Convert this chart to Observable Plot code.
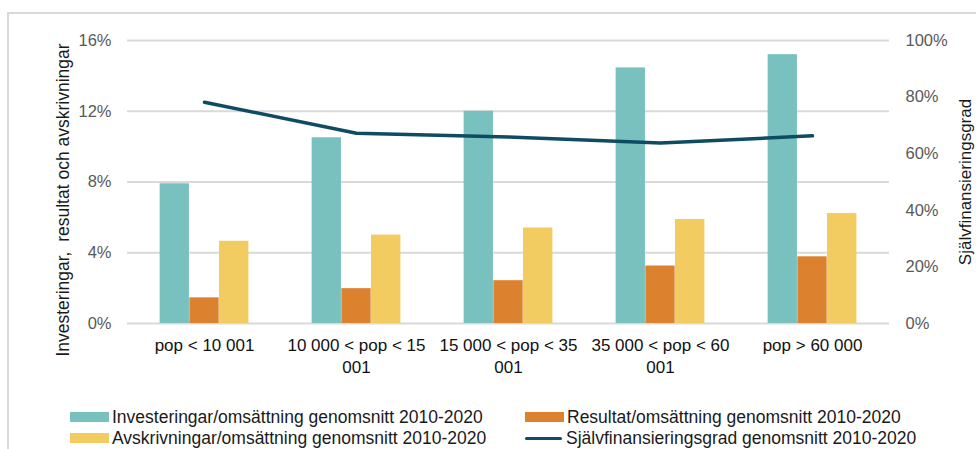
<!DOCTYPE html>
<html>
<head>
<meta charset="utf-8">
<script src="https://cdn.jsdelivr.net/npm/d3@7"></script>
<script src="https://cdn.jsdelivr.net/npm/@observablehq/plot@0.6"></script>
<style>
  html, body { margin: 0; padding: 0; background: #fff; }
  #wrap { position: relative; width: 976px; height: 449px; overflow: hidden; font-family: "Liberation Sans", Arial, sans-serif; }
  #frame { position: absolute; left: 7px; top: 12px; width: 1000px; height: 500px; border: 2px solid #d9d9d9; box-sizing: border-box; }
  #chart { position: absolute; left: 0; top: 0; }
  .legend { position: absolute; left: 0; top: 0; font-size: 17.5px; color: #1a1a1a; white-space: nowrap; }
  .legend .item { position: absolute; display: flex; align-items: center; height: 20px; }
  .legend .sw { display: inline-block; width: 39px; height: 10px; margin-right: 3px; }
  .legend .ln { display: inline-block; width: 37px; height: 3px; margin-right: 4px; border-radius: 2px; }
</style>
</head>
<body>
<div id="wrap">
  <div id="frame"></div>
  <div id="chart"></div>
  <div class="legend" id="legend"></div>
</div>
<script>
// Population-size groups
const categories = ["pop < 10 001", "10 000 < pop < 15 001", "15 000 < pop < 35 001", "35 000 < pop < 60 001", "pop > 60 000"];
// Two-line tick labels for the groups
const tickLabels = ["pop < 10 001", "10 000 < pop < 15\n001", "15 000 < pop < 35\n001", "35 000 < pop < 60\n001", "pop > 60 000"];

// Shares of turnover (%), average 2010-2020
const investeringar = [7.9, 10.5, 12.0, 14.45, 15.2];
const resultat = [1.45, 1.97, 2.42, 3.25, 3.77];
const avskrivningar = [4.65, 5.0, 5.4, 5.88, 6.22];
// Self-financing ratio (%), right axis
const sjalvfinansiering = [78.2, 67.2, 65.9, 63.8, 66.3];

const leftTicks = [0, 4, 8, 12, 16];
const rightTicks = [0, 20, 40, 60, 80, 100];

const leftTitle = "Investeringar,  resultat och avskrivningar";
const rightTitle = "Självfinansieringsgrad";

const seriesNames = [
  "Investeringar/omsättning genomsnitt 2010-2020",
  "Resultat/omsättning genomsnitt 2010-2020",
  "Avskrivningar/omsättning genomsnitt 2010-2020",
  "Självfinansieringsgrad genomsnitt 2010-2020"
];
const colors = ["#78c1bf", "#dc812d", "#f2cb61", "#0d4c62"];

const rows = categories.map((c, i) => ({
  cat: c,
  inv: investeringar[i],
  res: resultat[i],
  avs: avskrivningar[i],
  sjf: sjalvfinansiering[i]
}));

const W = 976, H = 380;
const mL = 127, mR = 87, mT = 40, mB = 57;
const band = (W - mL - mR) / categories.length;
const barW = band * 0.195;
const inset = (band - barW) / 2;
const leftMax = 16, rightMax = 100;
const toLeft = v => v / rightMax * leftMax;

const labelOf = new Map(categories.map((c, i) => [c, tickLabels[i]]));

const chart = Plot.plot({
  width: W,
  height: H,
  marginLeft: mL,
  marginRight: mR,
  marginTop: mT,
  marginBottom: mB,
  style: { fontFamily: "Liberation Sans, Arial, sans-serif", fontSize: "17px", background: "transparent" },
  x: { type: "band", domain: categories, padding: 0 },
  y: { domain: [0, leftMax] },
  marks: [
    Plot.gridY(leftTicks, { stroke: "#d9d9d9", strokeWidth: 2, strokeOpacity: 1 }),
    Plot.barY(rows, { x: "cat", y: "inv", fill: colors[0], insetLeft: inset, insetRight: inset, dx: -barW }),
    Plot.barY(rows, { x: "cat", y: "res", fill: colors[1], insetLeft: inset, insetRight: inset }),
    Plot.barY(rows, { x: "cat", y: "avs", fill: colors[2], insetLeft: inset, insetRight: inset, dx: barW }),
    Plot.line(rows, { x: "cat", y: d => toLeft(d.sjf), stroke: colors[3], strokeWidth: 3.5, strokeLinecap: "round", strokeLinejoin: "round" }),
    Plot.axisY(leftTicks, {
      anchor: "left", tickSize: 0, tickPadding: 16, fill: "#595959", fontSize: 16.5,
      tickFormat: d => d + "%", label: null
    }),
    Plot.axisY(rightTicks.map(toLeft), {
      anchor: "right", tickSize: 0, tickPadding: 16, fill: "#595959", fontSize: 16.5,
      tickFormat: d => Math.round(d / leftMax * rightMax) + "%", label: null
    }),
    Plot.axisX({
      tickSize: 0, tickPadding: 13, fontSize: 17, fill: "#111", lineHeight: 1.24,
      tickFormat: d => labelOf.get(d), label: null
    }),
    Plot.text([leftTitle], { frameAnchor: "left", textAnchor: "middle", lineAnchor: "middle", rotate: -90, dx: -64, dy: 18, fontSize: 17.5, fill: "#1a1a1a" }),
    Plot.text([rightTitle], { frameAnchor: "right", textAnchor: "middle", lineAnchor: "middle", rotate: -90, dx: 76, dy: 0, fontSize: 17, fill: "#1a1a1a" })
  ]
});
document.getElementById("chart").appendChild(chart);

// Legend in two columns below the chart
const legend = document.getElementById("legend");
const legendPos = [
  { left: 70, top: 407 },
  { left: 525, top: 407 },
  { left: 70, top: 428 },
  { left: 525, top: 428 }
];
[0, 1, 2, 3].forEach((s, k) => {
  const item = document.createElement("div");
  item.className = "item";
  item.style.left = legendPos[k].left + "px";
  item.style.top = legendPos[k].top + "px";
  const key = document.createElement("span");
  key.className = s === 3 ? "ln" : "sw";
  key.style.background = colors[s];
  const label = document.createElement("span");
  label.textContent = seriesNames[s];
  item.appendChild(key);
  item.appendChild(label);
  legend.appendChild(item);
});
</script>
</body>
</html>
